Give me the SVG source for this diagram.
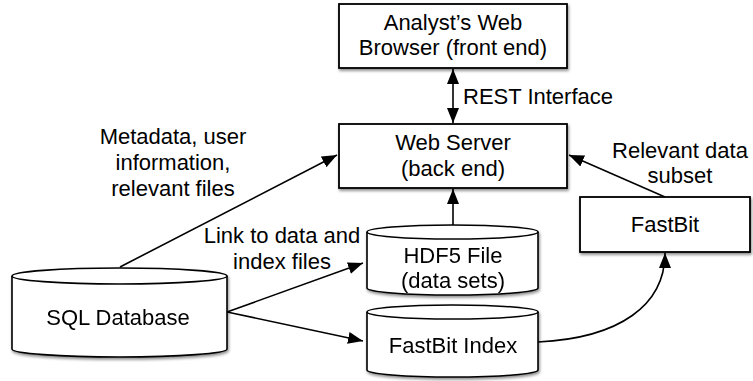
<svg xmlns="http://www.w3.org/2000/svg" width="753" height="381" viewBox="0 0 753 381">
<style>
.box{fill:#fff;stroke:#000;stroke-width:1.8;filter:url(#sh)}
.cyl{fill:#fff;stroke:#000;stroke-width:1.6}
.t{font-family:"Liberation Sans",Arial,Helvetica,sans-serif;font-size:22px;fill:#000;text-anchor:middle}
.tl{text-anchor:start}
.c{fill:none;stroke:#000;stroke-width:1.6}
</style>
<defs>
<filter id="sh" x="-10%" y="-10%" width="125%" height="135%">
<feGaussianBlur in="SourceAlpha" stdDeviation="1.5"/>
<feOffset dx="1" dy="2" result="b"/>
<feComponentTransfer><feFuncA type="linear" slope="0.45"/></feComponentTransfer>
<feMerge><feMergeNode/><feMergeNode in="SourceGraphic"/></feMerge>
</filter>
<marker id="ah" markerWidth="16" markerHeight="12" refX="15" refY="6" orient="auto" markerUnits="userSpaceOnUse">
<path d="M0,0 L15,6 L0,12 Z" fill="#000"/>
</marker>
<marker id="as" markerWidth="16" markerHeight="12" refX="1" refY="6" orient="auto" markerUnits="userSpaceOnUse">
<path d="M16,0 L1,6 L16,12 Z" fill="#000"/>
</marker>
</defs>

<g id="connectors">
<line class="c" x1="453" y1="69" x2="453" y2="123" marker-start="url(#as)" marker-end="url(#ah)"/>
<line class="c" x1="120" y1="267" x2="337" y2="155" marker-end="url(#ah)"/>
<line class="c" x1="227" y1="312" x2="363" y2="263" marker-end="url(#ah)"/>
<line class="c" x1="227" y1="312" x2="363" y2="341" marker-end="url(#ah)"/>
<line class="c" x1="453" y1="225" x2="453" y2="189" marker-end="url(#ah)"/>
<line class="c" x1="665" y1="197" x2="569" y2="155" marker-end="url(#ah)"/>
<path class="c" d="M538,342 C620,338 665,305 665,253" marker-end="url(#ah)"/>
<text class="t tl" x="463" y="104">REST Interface</text>
<text class="t" x="173" y="144">Metadata, user</text>
<text class="t" x="173" y="170">information,</text>
<text class="t" x="173" y="196">relevant files</text>
<text class="t" x="282" y="243">Link to data and</text>
<text class="t" x="282" y="269">index files</text>
<text class="t" x="680" y="158">Relevant data</text>
<text class="t" x="680" y="183">subset</text>
</g>

<g id="browser">
<rect class="box" x="339" y="4" width="228" height="64"/>
<text class="t" x="453" y="30">Analyst’s Web</text>
<text class="t" x="453" y="55">Browser (front end)</text>
</g>

<g id="webserver">
<rect class="box" x="339" y="124" width="228" height="64"/>
<text class="t" x="453" y="150">Web Server</text>
<text class="t" x="453" y="176">(back end)</text>
</g>

<g id="fastbit">
<rect class="box" x="580" y="197" width="170" height="55"/>
<text class="t" x="665" y="232">FastBit</text>
</g>

<g id="sql" filter="url(#sh)">
<path class="cyl" d="M12,276 L12,349 A107.5,8 0 0 0 227,349 L227,276 A107.5,8 0 0 0 12,276 Z"/>
<path class="cyl" d="M12,276 A107.5,8 0 0 0 227,276"/>
<text class="t" x="118" y="325">SQL Database</text>
</g>

<g id="hdf5" filter="url(#sh)">
<path class="cyl" d="M367,232 L367,288 A85.5,7 0 0 0 538,288 L538,232 A85.5,7 0 0 0 367,232 Z"/>
<path class="cyl" d="M367,232 A85.5,7 0 0 0 538,232"/>
<text class="t" x="453" y="263">HDF5 File</text>
<text class="t" x="453" y="288">(data sets)</text>
</g>

<g id="fastbitindex" filter="url(#sh)">
<path class="cyl" d="M367,312 L367,370 A85.5,7 0 0 0 538,370 L538,312 A85.5,7 0 0 0 367,312 Z"/>
<path class="cyl" d="M367,312 A85.5,7 0 0 0 538,312"/>
<text class="t" x="453" y="353">FastBit Index</text>
</g>
</svg>
